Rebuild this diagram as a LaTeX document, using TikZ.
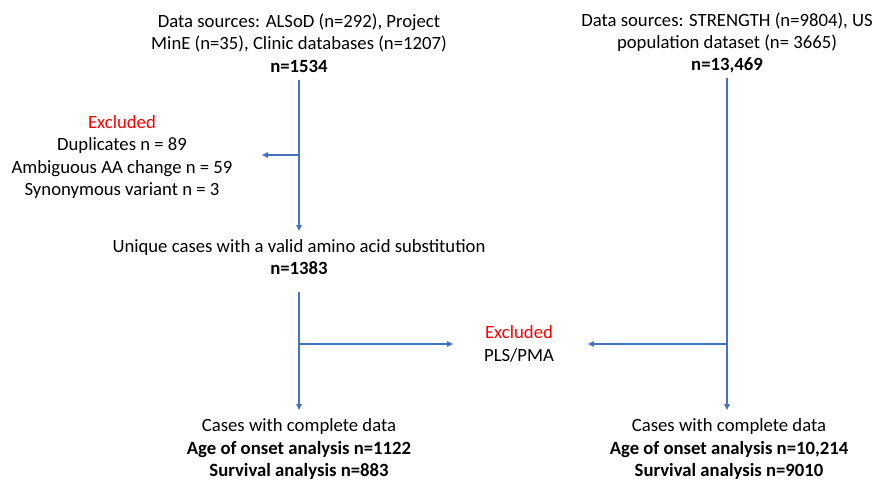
\documentclass[tikz,border=0pt]{standalone}
\usepackage{fontspec}
\setmainfont{Carlito}
\usetikzlibrary{arrows.meta}
\definecolor{lineblue}{HTML}{4472C4}
\definecolor{exred}{HTML}{FF0000}
\tikzset{
  txt/.style={align=center, inner sep=0pt, font=\fontsize{18.7}{22.3}\selectfont},
  conn/.style={draw=lineblue, line width=1.2pt},
  arr/.style={conn, -{Triangle[length=6pt,width=5.5pt]}},
}
\begin{document}
\begin{tikzpicture}[x=1pt,y=-1pt]
\useasboundingbox (0,0) rectangle (875,482);
% text nodes
\node[txt] (src1) at (299,43) {Data sources: ALSoD (n=292), Project\\MinE (n=35), Clinic databases (n=1207)\\\textbf{n=1534}};
\node[txt] (exc1) at (122,157) {\textcolor{exred}{Excluded}\\Duplicates n = 89\\Ambiguous AA change n = 59\\Synonymous variant n = 3};
\node[txt] (uniq) at (299,257) {Unique cases with a valid amino acid substitution\\\textbf{n=1383}};
\node[txt] (exc2) at (519,344) {\textcolor{exred}{Excluded}\\PLS/PMA};
\node[txt] (res1) at (299,449) {Cases with complete data\\\textbf{Age of onset analysis n=1122}\\\textbf{Survival analysis n=883}};
\node[txt] (src2) at (727,43) {Data sources: STRENGTH (n=9804), US\\population dataset (n= 3665)\\\textbf{n=13,469}};
\node[txt] (res2) at (729,449) {Cases with complete data\\\textbf{Age of onset analysis n=10,214}\\\textbf{Survival analysis n=9010}};
% junction coordinates
\coordinate (j1) at (299,155);
\coordinate (j2) at (299,344);
\coordinate (j3) at (727,344);
\coordinate (t1) at (262,155);
\coordinate (t2) at (453,344);
\coordinate (t3) at (588,344);
% connectors
\draw[arr] (src1.south |- 0,80) -- (uniq.north |- 0,231);
\draw[arr] (j1) -- (t1);
\draw[arr] (uniq.south |- 0,292) -- (res1.north |- 0,410);
\draw[arr] (j2) -- (t2);
\draw[arr] (src2.south |- 0,78) -- (src2.south |- 0,410);
\draw[arr] (j3) -- (t3);
\end{tikzpicture}
\end{document}
